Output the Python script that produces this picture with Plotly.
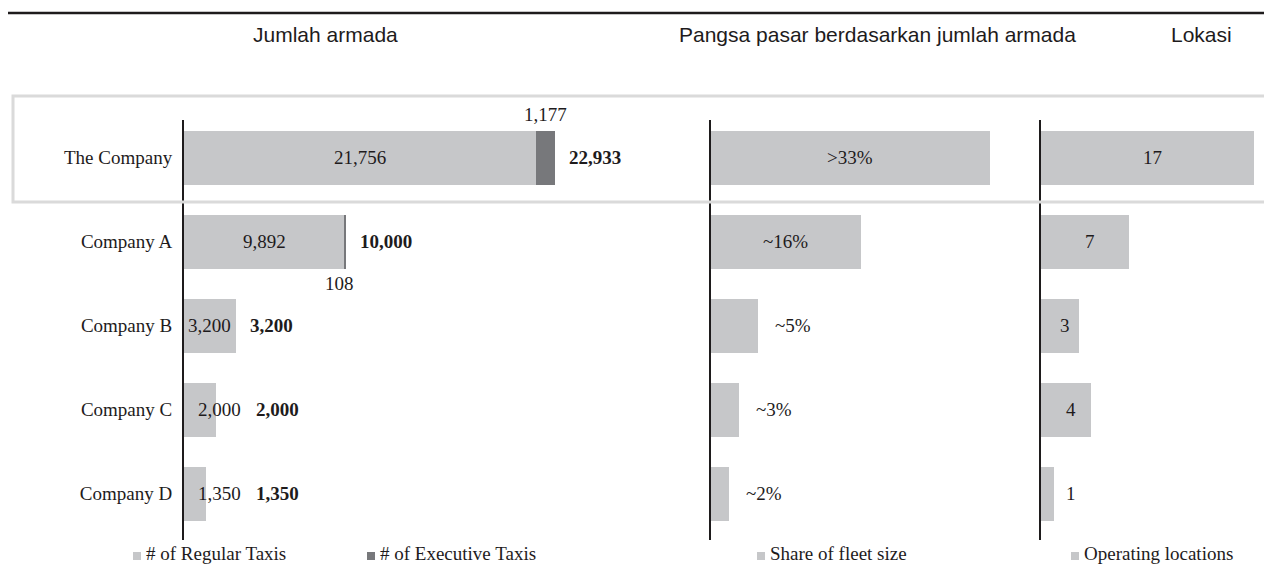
import plotly.graph_objects as go

# ---------------- data ----------------
companies = ["The Company", "Company A", "Company B", "Company C", "Company D"]
regular_taxis = [21756, 9892, 3200, 2000, 1350]
executive_taxis = [1177, 108, 0, 0, 0]
total_fleet = [22933, 10000, 3200, 2000, 1350]
share_values = [33.0, 17.7, 5.6, 3.3, 2.1]
share_labels = [">33%", "~16%", "~5%", "~3%", "~2%"]
locations = [17, 7, 3, 4, 1]

panel_titles = ["Jumlah armada", "Pangsa pasar berdasarkan jumlah armada", "Lokasi"]
legend_labels = ["# of Regular Taxis", "# of Executive Taxis",
                 "Share of fleet size", "Operating locations"]

# ---------------- style ----------------
PAGE_W, PAGE_H = 1272, 565
OFF = 8                      # default page margin around the figure
W, H = PAGE_W - OFF, PAGE_H - OFF
REG = "#c6c7c9"
EXE = "#77787b"
TXT = "#1e1b1c"
SERIF = "Liberation Serif, Times New Roman, serif"
SANS = "Liberation Sans, Arial, sans-serif"
FS = 19


def fx(p):
    return (p - OFF) / W


def fy(p):
    return 1 - (p - OFF) / H


# panel geometry (page pixels): left, right, px per unit
p1 = (184, 650, 0.01618)
p2 = (711, 1000, 8.45)
p3 = (1041, 1272, 12.5)
ydom = [fy(540), fy(120)]
yrange = [4.55, -0.45]
BW = 0.643
HALF = BW * 42  # half bar height in px

fig = go.Figure()
common = dict(orientation="h", width=BW, showlegend=False, hoverinfo="x+y")
fig.add_bar(x=regular_taxis, y=companies, marker=dict(color=REG, line_width=0),
            name=legend_labels[0], xaxis="x", yaxis="y", **common)
fig.add_bar(x=executive_taxis, y=companies, marker=dict(color=EXE, line_width=0),
            name=legend_labels[1], xaxis="x", yaxis="y", **common)
fig.add_bar(x=share_values, y=companies, marker=dict(color=REG, line_width=0),
            name=legend_labels[2], xaxis="x2", yaxis="y2", **common)
fig.add_bar(x=locations, y=companies, marker=dict(color=REG, line_width=0),
            name=legend_labels[3], xaxis="x3", yaxis="y3", **common)


def xax(p):
    return dict(domain=[fx(p[0]), min(1.0, fx(p[1]))],
                range=[0, (min(p[1], PAGE_W) - p[0]) / p[2]],
                visible=False, fixedrange=True)


def yax(anchor, labels):
    d = dict(domain=ydom, anchor=anchor, type="category",
             categoryorder="array", categoryarray=companies, range=yrange,
             showline=True, linecolor=TXT, linewidth=2, showgrid=False,
             zeroline=False, fixedrange=True)
    if labels:
        d.update(ticks="outside", ticklen=6, tickcolor="rgba(0,0,0,0)",
                 tickfont=dict(family=SERIF, size=FS, color=TXT))
    else:
        d.update(showticklabels=False, ticks="")
    return d


ann = []
font = dict(family=SERIF, size=FS, color=TXT)

# panel 1 labels
for i, c in enumerate(companies):
    r, e, t = regular_taxis[i], executive_taxis[i], total_fleet[i]
    wpx = r * p1[2]
    if wpx > 50:
        ann.append(dict(x=r / 2, y=c, xref="x", yref="y", text=f"{r:,}",
                        showarrow=False, font=font, xanchor="center"))
        tx, tshift = t, 12
    else:
        ann.append(dict(x=0, y=c, xref="x", yref="y", text=f"{r:,}",
                        showarrow=False, font=font, xanchor="left", xshift=12))
        tx, tshift = 0, 70
    ann.append(dict(x=tx, y=c, xref="x", yref="y", text=f"<b>{t:,}</b>",
                    showarrow=False, font=font, xanchor="left", xshift=tshift))
    if e > 0:
        if i == 0:
            ann.append(dict(x=r + e / 2, y=i, xref="x", yref="y", text=f"{e:,}",
                            showarrow=False, font=font, yanchor="bottom",
                            yshift=HALF + 4))
        else:
            ann.append(dict(x=t, y=i, xref="x", yref="y", text=f"{e:,}",
                            showarrow=False, font=font, yanchor="top",
                            xshift=-6, yshift=-(HALF + 2)))

# panel 2 labels
for i, c in enumerate(companies):
    v = share_values[i]
    if v * p2[2] > 100:
        ann.append(dict(x=v / 2, y=c, xref="x2", yref="y2", text=share_labels[i],
                        showarrow=False, font=font, xanchor="center"))
    else:
        ann.append(dict(x=v, y=c, xref="x2", yref="y2", text=share_labels[i],
                        showarrow=False, font=font, xanchor="left", xshift=15))

# panel 3 labels
for i, c in enumerate(companies):
    v = locations[i]
    if v * p3[2] > 30:
        ann.append(dict(x=v / 2, y=c, xref="x3", yref="y3", text=str(v),
                        showarrow=False, font=font, xanchor="center", xshift=5))
    else:
        ann.append(dict(x=v, y=c, xref="x3", yref="y3", text=str(v),
                        showarrow=False, font=font, xanchor="left", xshift=10))

# panel headers
for title, cx in zip(panel_titles, [325, 877, 1201]):
    ann.append(dict(x=fx(cx), y=fy(34), xref="paper", yref="paper", text=title,
                    showarrow=False, xanchor="center", yanchor="middle",
                    font=dict(family=SANS, size=21, color=TXT)))

shapes = [
    dict(type="line", xref="paper", yref="paper", x0=fx(3), x1=1.0,
         y0=fy(13), y1=fy(13), line=dict(color=TXT, width=2.5)),
    dict(type="rect", xref="paper", yref="paper", x0=fx(13), x1=1.01,
         y0=fy(202), y1=fy(96), line=dict(color="#dadada", width=3)),
]

# legend entries (swatch + label)
for lab, col, lx in zip(legend_labels, [REG, EXE, REG, REG], [133, 367, 757, 1071]):
    shapes.append(dict(type="rect", xref="paper", yref="paper",
                       x0=fx(lx), x1=fx(lx + 8), y0=fy(560), y1=fy(552),
                       fillcolor=col, line_width=0))
    ann.append(dict(x=fx(lx + 11), y=fy(553), xref="paper", yref="paper",
                    text=lab, showarrow=False, xanchor="left", yanchor="middle",
                    font=font))

fig.update_layout(
    width=W, height=H, margin=dict(l=0, r=0, t=0, b=0),
    paper_bgcolor="white", plot_bgcolor="rgba(0,0,0,0)",
    barmode="stack",
    xaxis=xax(p1), xaxis2=xax(p2), xaxis3=xax(p3),
    yaxis=yax("x", True), yaxis2=yax("x2", False), yaxis3=yax("x3", False),
    annotations=ann, shapes=shapes,
    font=dict(family=SERIF, color=TXT),
)

fig.write_html("out.html")
